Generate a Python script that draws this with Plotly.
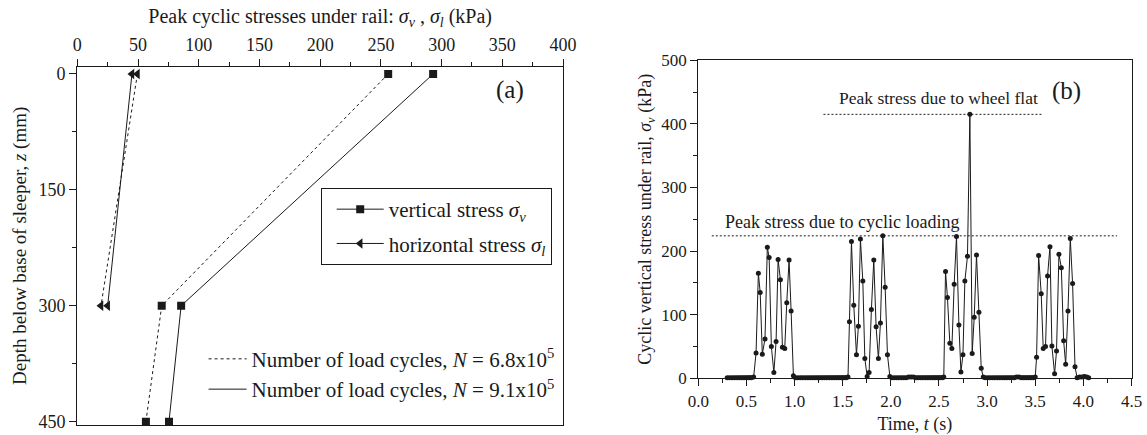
import plotly.graph_objects as go

# ---------------- Panel (a) data ----------------
depth_v = [0, 300, 450]
sv_N68 = [256, 69.5, 56.5]      # vertical stress, N = 6.8x10^5 (dashed)
sv_N91 = [293, 85.5, 75.5]      # vertical stress, N = 9.1x10^5 (solid)
depth_l = [0, 300]
sl_N68 = [49.5, 19.5]           # horizontal stress, N = 6.8x10^5 (dashed)
sl_N91 = [45, 25]               # horizontal stress, N = 9.1x10^5 (solid)

# ---------------- Panel (b) data ----------------
t_base0 = [0.300, 0.325, 0.350, 0.375, 0.400, 0.425, 0.450, 0.475, 0.500, 0.525, 0.550, 0.575]
v_base0 = [1, 1, 1, 1, 1, 1, 1, 1, 1, 1, 1, 2]
t_burst1 = [0.600, 0.624, 0.643, 0.665, 0.693, 0.717, 0.736, 0.759, 0.785, 0.808, 0.829, 0.853,
            0.874, 0.898, 0.919, 0.943, 0.964, 0.988]
v_burst1 = [40, 165, 135, 38, 62, 206, 190, 50, 9, 58, 187, 155, 49, 47, 119, 186, 106, 4]
t_base1 = [1.010, 1.035, 1.060, 1.085, 1.110, 1.135, 1.160, 1.185, 1.210, 1.235, 1.260, 1.285,
           1.310, 1.335, 1.360, 1.385, 1.410, 1.435, 1.460, 1.485, 1.510, 1.535, 1.555]
v_base1 = [1, 1, 1, 1, 1, 1, 1, 1, 1, 1, 1, 1, 1, 1, 1, 1, 1, 1, 1, 1, 1, 1, 2]
t_burst2 = [1.570, 1.591, 1.615, 1.643, 1.663, 1.684, 1.709, 1.730, 1.754, 1.774, 1.798, 1.823,
            1.847, 1.871, 1.892, 1.917, 1.941, 1.965, 1.990]
v_burst2 = [89, 215, 115, 37, 82, 219, 153, 31, 3, 9, 108, 186, 81, 31, 87, 224, 143, 37, 3]
t_base2 = [2.010, 2.035, 2.060, 2.085, 2.110, 2.135, 2.160, 2.185, 2.210, 2.235, 2.260, 2.285,
           2.310, 2.335, 2.360, 2.385, 2.410, 2.435, 2.460, 2.485, 2.510, 2.535, 2.550]
v_base2 = [1, 1, 1, 1, 1, 1, 1, 2, 2, 2, 1, 1, 1, 1, 1, 1, 1, 1, 1, 1, 1, 1, 2]
t_burst3 = [2.568, 2.588, 2.613, 2.634, 2.658, 2.682, 2.707, 2.728, 2.749, 2.769, 2.796, 2.821,
            2.845, 2.866, 2.890, 2.915, 2.939, 2.960]
v_burst3 = [168, 127, 55, 47, 148, 223, 84, 10, 37, 153, 192, 415, 39, 96, 194, 104, 16, 2]
t_base3 = [2.980, 3.005, 3.030, 3.055, 3.080, 3.105, 3.130, 3.155, 3.180, 3.205, 3.230, 3.255,
           3.280, 3.305, 3.330, 3.355, 3.380, 3.405, 3.430, 3.455, 3.480, 3.500]
v_base3 = [1, 1, 1, 1, 1, 1, 1, 1, 1, 1, 1, 1, 1, 2, 2, 1, 1, 1, 1, 1, 1, 2]
t_burst4 = [3.514, 3.535, 3.562, 3.583, 3.607, 3.628, 3.653, 3.673, 3.701, 3.721, 3.746, 3.771,
            3.795, 3.816, 3.840, 3.864, 3.888, 3.913]
v_burst4 = [33, 193, 133, 47, 50, 161, 207, 51, 7, 43, 195, 174, 59, 22, 106, 220, 149, 18]
t_base4 = [3.935, 3.960, 3.985, 4.010, 4.035, 4.055]
v_base4 = [1, 2, 2, 3, 2, 1]

time_s = t_base0 + t_burst1 + t_base1 + t_burst2 + t_base2 + t_burst3 + t_base3 + t_burst4 + t_base4
stress_kpa = v_base0 + v_burst1 + v_base1 + v_burst2 + v_base2 + v_burst3 + v_base3 + v_burst4 + v_base4

# baseline (no-load) stretches, drawn as a heavier trace on top of the record
base_t = t_base0 + [None] + t_base1 + [None] + t_base2 + [None] + t_base3 + [None] + t_base4
base_v = v_base0 + [None] + v_base1 + [None] + v_base2 + [None] + v_base3 + [None] + v_base4

WHEEL_FLAT_PEAK = 415
CYCLIC_PEAK = 224

FONT = "Liberation Serif"
INK = "#1a1a1a"

fig = go.Figure()

# Panel (a) traces
fig.add_trace(go.Scatter(x=sv_N68, y=depth_v, mode="lines+markers", xaxis="x", yaxis="y",
                         line=dict(color=INK, width=1, dash="3px,3px"),
                         marker=dict(symbol="square", size=8, color=INK), showlegend=False))
fig.add_trace(go.Scatter(x=sv_N91, y=depth_v, mode="lines+markers", xaxis="x", yaxis="y",
                         line=dict(color=INK, width=1),
                         marker=dict(symbol="square", size=8, color=INK), showlegend=False))
fig.add_trace(go.Scatter(x=sl_N68, y=depth_l, mode="lines+markers", xaxis="x", yaxis="y",
                         line=dict(color=INK, width=1, dash="3px,3px"),
                         marker=dict(symbol="triangle-left", size=9, color=INK), showlegend=False))
fig.add_trace(go.Scatter(x=sl_N91, y=depth_l, mode="lines+markers", xaxis="x", yaxis="y",
                         line=dict(color=INK, width=1),
                         marker=dict(symbol="triangle-left", size=9, color=INK), showlegend=False))

# Legend entries (panel a)
fig.add_trace(go.Scatter(x=[None], y=[None], mode="lines+markers", xaxis="x", yaxis="y",
                         name="vertical stress <i>σ<sub>v</sub></i>", legend="legend", legendgroup="g1",
                         line=dict(color=INK, width=1), marker=dict(symbol="square", size=8, color=INK)))
fig.add_trace(go.Scatter(x=[None], y=[None], mode="lines+markers", xaxis="x", yaxis="y",
                         name="horizontal stress <i>σ<sub>l</sub></i>", legend="legend", legendgroup="g2",
                         line=dict(color=INK, width=1), marker=dict(symbol="triangle-left", size=9, color=INK)))
fig.add_trace(go.Scatter(x=[None], y=[None], mode="lines", xaxis="x", yaxis="y",
                         name="Number of load cycles, <i>N</i> = 6.8x10<sup>5</sup>", legend="legend2",
                         legendgroup="g3", line=dict(color=INK, width=1, dash="3px,3px")))
fig.add_trace(go.Scatter(x=[None], y=[None], mode="lines", xaxis="x", yaxis="y",
                         name="Number of load cycles, <i>N</i> = 9.1x10<sup>5</sup>", legend="legend2",
                         legendgroup="g4", line=dict(color=INK, width=1)))

# Panel (b) traces
fig.add_trace(go.Scatter(x=time_s, y=stress_kpa, mode="lines+markers", xaxis="x2", yaxis="y2",
                         line=dict(color=INK, width=1), marker=dict(symbol="circle", size=5, color=INK),
                         showlegend=False, cliponaxis=False))
fig.add_trace(go.Scatter(x=base_t, y=base_v, mode="lines", xaxis="x2", yaxis="y2",
                         line=dict(color=INK, width=3.5), showlegend=False, cliponaxis=False,
                         connectgaps=False))

axis_common = dict(showline=True, linecolor=INK, linewidth=1.2, mirror=True, ticks="outside",
                   tickcolor=INK, tickwidth=1.2, ticklen=7, showgrid=False, zeroline=False,
                   automargin=False, tickfont=dict(family=FONT, size=18, color=INK))

fig.update_layout(
    width=1147, height=435,
    margin=dict(l=0, r=0, t=0, b=0, autoexpand=False),
    paper_bgcolor="white", plot_bgcolor="white",
    font=dict(family=FONT, color=INK, size=18),
    xaxis=dict(**axis_common, domain=[0.0674, 0.4909], anchor="y", side="top", range=[0, 400],
               tick0=0, dtick=50,
               minor=dict(dtick=25, ticks="outside", ticklen=4, tickcolor=INK, tickwidth=1.2),
               title=dict(text="Peak cyclic stresses under rail: <i>σ<sub>v</sub></i> , <i>σ<sub>l</sub></i> (kPa)",
                          font=dict(family=FONT, size=20, color=INK), standoff=6)),
    yaxis=dict(**axis_common, domain=[0.023, 0.8467], anchor="x", range=[454.3, -9.45],
               tick0=0, dtick=150,
               minor=dict(dtick=75, ticks="outside", ticklen=4, tickcolor=INK, tickwidth=1.2),
               title=dict(text="Depth below base of sleeper, <i>z</i> (mm)",
                          font=dict(family=FONT, size=19, color=INK), standoff=6)),
    xaxis2=dict(**{**axis_common, "tickfont": dict(family=FONT, size=17, color=INK)},
                domain=[0.6088, 0.9865], anchor="y2", range=[0, 4.5], tick0=0, dtick=0.5,
                tickformat=".1f",
                minor=dict(dtick=0.25, ticks="outside", ticklen=4, tickcolor=INK, tickwidth=1.2),
                title=dict(text="Time, <i>t</i> (s)", font=dict(family=FONT, size=18, color=INK), standoff=10)),
    yaxis2=dict(**{**axis_common, "tickfont": dict(family=FONT, size=17, color=INK)},
                domain=[0.1303, 0.8614], anchor="x2", range=[0, 500], tick0=0, dtick=100,
                minor=dict(dtick=50, ticks="outside", ticklen=4, tickcolor=INK, tickwidth=1.2),
                title=dict(text="Cyclic vertical stress under rail, <i>σ<sub>v</sub></i> (kPa)",
                           font=dict(family=FONT, size=18, color=INK), standoff=4)),
    legend=dict(x=0.2796, y=0.5678, xanchor="left", yanchor="top", bordercolor=INK, borderwidth=1,
                bgcolor="white", font=dict(family=FONT, size=21, color=INK), itemwidth=47,
                indentation=10, tracegroupgap=4),
    legend2=dict(x=0.1775, y=0.2214, xanchor="left", yanchor="top", borderwidth=0,
                 bgcolor="rgba(0,0,0,0)", font=dict(family=FONT, size=21, color=INK), itemwidth=38,
                 tracegroupgap=0),
    shapes=[
        dict(type="line", xref="x2", yref="y2", x0=1.30, x1=3.58, y0=WHEEL_FLAT_PEAK, y1=WHEEL_FLAT_PEAK,
             line=dict(color=INK, width=1, dash="2px,2px")),
        dict(type="line", xref="x2", yref="y2", x0=0.14, x1=4.35, y0=CYCLIC_PEAK, y1=CYCLIC_PEAK,
             line=dict(color=INK, width=1, dash="2px,2px")),
    ],
    annotations=[
        dict(text="(a)", x=356, y=21, xref="x", yref="y", showarrow=False,
             font=dict(family=FONT, size=25, color=INK)),
        dict(text="(b)", x=3.82, y=452, xref="x2", yref="y2", showarrow=False,
             font=dict(family=FONT, size=25, color=INK)),
        dict(text="Peak stress due to wheel flat", x=2.49, y=441, xref="x2", yref="y2", showarrow=False,
             font=dict(family=FONT, size=17.5, color=INK)),
        dict(text="Peak stress due to cyclic loading", x=0.26, y=246, xref="x2", yref="y2",
             xanchor="left", showarrow=False, font=dict(family=FONT, size=18, color=INK)),
    ],
)

fig.write_html("out.html", config={"displayModeBar": False},
               post_script="document.body.style.margin='0';")
